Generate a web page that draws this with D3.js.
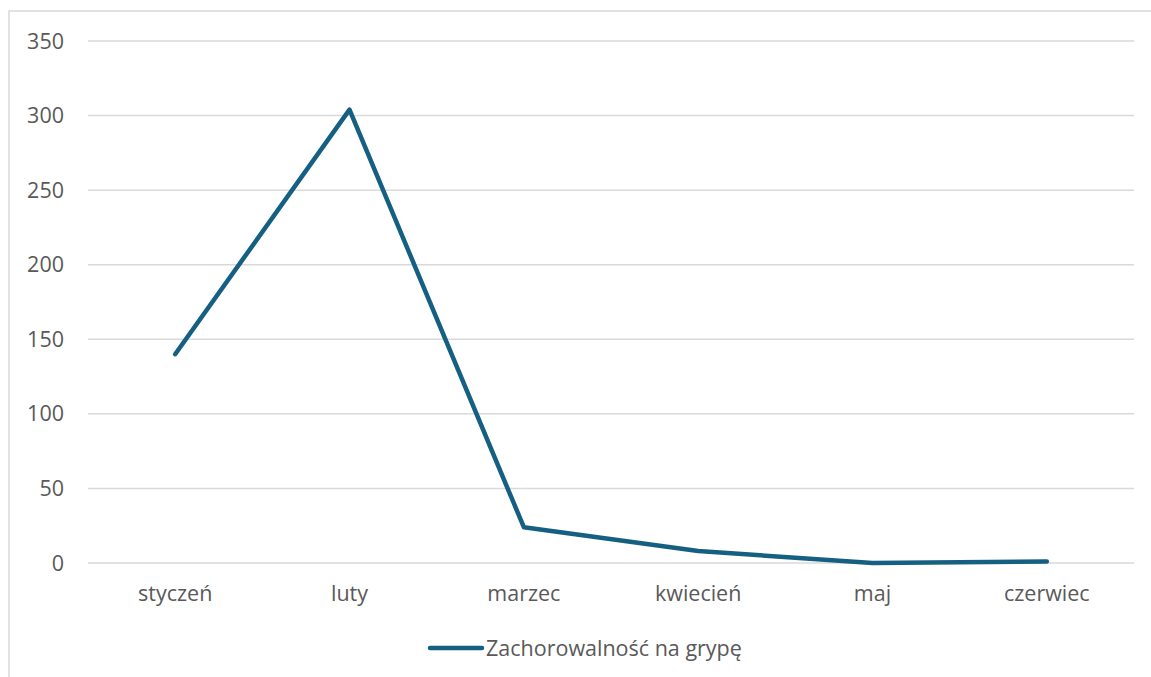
<!DOCTYPE html>
<html>
<head>
<meta charset="utf-8">
<script src="https://cdn.jsdelivr.net/npm/d3@7"></script>
<style>
  body { margin: 0; background: #fff; }
  text { font-family: "Open Sans", Roboto, sans-serif; fill: #595959; }
</style>
</head>
<body>
<svg id="chart" width="1151" height="677"></svg>
<script>
    // data
    const months = ["styczeń", "luty", "marzec", "kwiecień", "maj", "czerwiec"];
    const cases = [140, 304, 24, 8, 0, 1];
    const yTicks = [0, 50, 100, 150, 200, 250, 300, 350];
    const seriesName = "Zachorowalność na grypę";

    let svg = d3.select("svg#chart");
    let margin = { top: 41, left: 88, right: 1134, bottom: 563 };
    let fontSize = "21.5px";

    // chart border (runs off the right and bottom edges)
    svg.append("rect")
      .attr("x", 9).attr("y", 11)
      .attr("width", 1160).attr("height", 700)
      .attr("fill", "none").attr("stroke", "#d9d9d9").attr("stroke-width", 1.5);

    const x = d3.scalePoint()
      .domain(months)
      .range([margin.left, margin.right])
      .padding(0.5);

    const y = d3.scaleLinear()
      .domain([0, 350])
      .range([margin.bottom, margin.top]);

    // gridlines
    svg.append("g")
      .selectAll("line")
      .data(yTicks)
      .join("line")
      .attr("x1", margin.left).attr("x2", margin.right)
      .attr("y1", d => y(d)).attr("y2", d => y(d))
      .attr("stroke", "#d9d9d9").attr("stroke-width", 1.5);

    // y labels
    svg.append("g")
      .selectAll("text")
      .data(yTicks)
      .join("text")
      .attr("x", 64)
      .attr("y", d => y(d))
      .attr("dy", "0.35em")
      .attr("text-anchor", "end")
      .style("font-size", fontSize)
      .text(d => d);

    // x labels
    svg.append("g")
      .selectAll("text")
      .data(months)
      .join("text")
      .attr("x", d => x(d))
      .attr("y", 601)
      .attr("text-anchor", "middle")
      .style("font-size", fontSize)
      .text(d => d);

    // the line
    const line = d3.line()
      .x((d, i) => x(months[i]))
      .y(d => y(d));

    svg.append("path")
      .datum(cases)
      .attr("d", line)
      .attr("fill", "none")
      .attr("stroke", "#156082")
      .attr("stroke-width", 4.5)
      .attr("stroke-linecap", "round")
      .attr("stroke-linejoin", "round");

    // legend
    svg.append("line")
      .attr("x1", 430).attr("x2", 482)
      .attr("y1", 648).attr("y2", 648)
      .attr("stroke", "#156082")
      .attr("stroke-width", 4.5)
      .attr("stroke-linecap", "round");

    svg.append("text")
      .attr("x", 486).attr("y", 648)
      .attr("dy", "0.35em")
      .style("font-size", fontSize)
      .text(seriesName);
</script>
</body>
</html>
